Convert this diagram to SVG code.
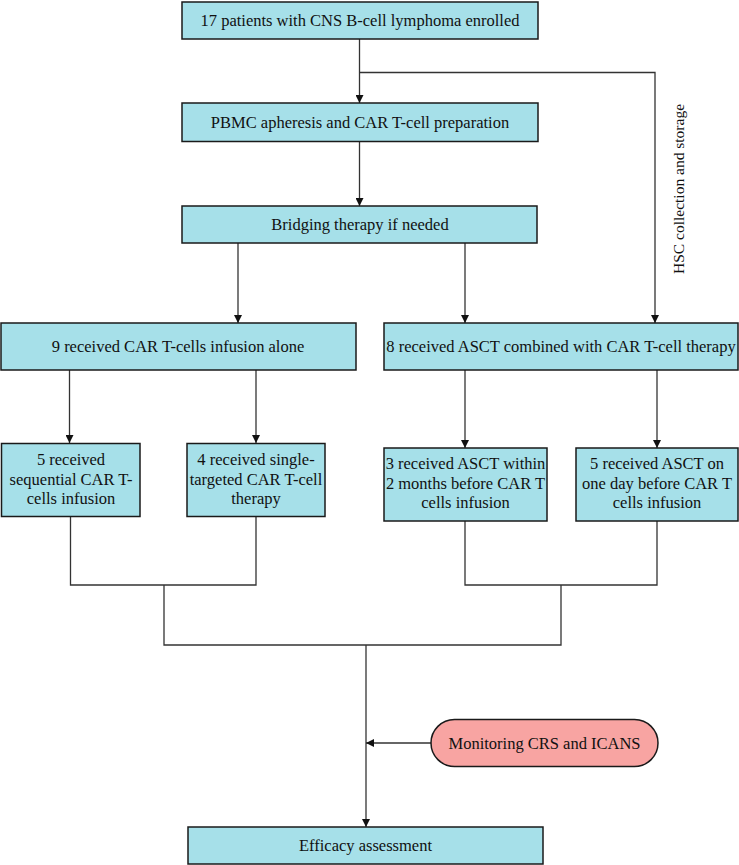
<svg xmlns="http://www.w3.org/2000/svg" width="739" height="865" viewBox="0 0 739 865">
<style>
.box{fill:#a6e0e9;stroke:#1a1a1a;stroke-width:1.5}
.pill{fill:#f8a4a2;stroke:#1a1a1a;stroke-width:1.5}
.t{font-family:"Liberation Serif","Times New Roman",serif;font-size:16.5px;fill:#111;text-anchor:middle}
.c{fill:none;stroke:#333;stroke-width:1.3}
</style>
<defs>
<marker id="ah" markerWidth="8" markerHeight="8" viewBox="0 0 8 8" refX="8" refY="4" orient="auto" markerUnits="userSpaceOnUse">
<path d="M0,0 L8,4 L0,8 Z" fill="#111"/>
</marker>
</defs>
<g id="connectors">
<path class="c" d="M359.5,39 V103" marker-end="url(#ah)"/>
<path class="c" d="M359.5,72.5 H655 V323" marker-end="url(#ah)"/>
<path class="c" d="M359.5,142 V206" marker-end="url(#ah)"/>
<path class="c" d="M238,243 V323" marker-end="url(#ah)"/>
<path class="c" d="M465,243 V323" marker-end="url(#ah)"/>
<path class="c" d="M69.5,370 V443" marker-end="url(#ah)"/>
<path class="c" d="M256,370 V443" marker-end="url(#ah)"/>
<path class="c" d="M465,370 V448" marker-end="url(#ah)"/>
<path class="c" d="M657,370 V448" marker-end="url(#ah)"/>
<path class="c" d="M70.5,517 V585 H256 V517"/>
<path class="c" d="M465,521 V585 H657 V521"/>
<path class="c" d="M164,585 V645 H561 V585"/>
<path class="c" d="M366,645 V827" marker-end="url(#ah)"/>
<path class="c" d="M431,743 H366" marker-end="url(#ah)"/>
<text x="0" y="0" transform="translate(684,189) rotate(-90)" class="t" style="font-size:15.5px">HSC collection and storage</text>
</g>
<g id="n1"><rect class="box" x="182" y="2" width="356" height="37"/><text class="t" x="360" y="26">17 patients with CNS B-cell lymphoma enrolled</text></g>
<g id="n2"><rect class="box" x="182" y="103" width="356" height="38.5"/><text class="t" x="360" y="127.5">PBMC apheresis and CAR T-cell preparation</text></g>
<g id="n3"><rect class="box" x="182" y="206" width="355" height="37"/><text class="t" x="360" y="230">Bridging therapy if needed</text></g>
<g id="n4"><rect class="box" x="1" y="323" width="355" height="47"/><text class="t" x="178" y="352">9 received CAR T-cells infusion alone</text></g>
<g id="n5"><rect class="box" x="384" y="323" width="354" height="47"/><text class="t" x="561" y="352">8 received ASCT combined with CAR T-cell therapy</text></g>
<g id="n6"><rect class="box" x="1.5" y="443.5" width="138.5" height="73"/><text class="t" x="71" y="465"><tspan x="71">5 received</tspan><tspan x="71" dy="19.5">sequential CAR T-</tspan><tspan x="71" dy="19.5">cells infusion</tspan></text></g>
<g id="n7"><rect class="box" x="187" y="443.5" width="138" height="73"/><text class="t" x="256" y="465"><tspan x="256">4 received single-</tspan><tspan x="256" dy="19.5">targeted CAR T-cell</tspan><tspan x="256" dy="19.5">therapy</tspan></text></g>
<g id="n8"><rect class="box" x="384" y="448" width="163" height="73"/><text class="t" x="465.5" y="469"><tspan x="465.5">3 received ASCT within</tspan><tspan x="465.5" dy="19.5">2 months before CAR T</tspan><tspan x="465.5" dy="19.5">cells infusion</tspan></text></g>
<g id="n9"><rect class="box" x="576" y="448" width="162" height="73"/><text class="t" x="657" y="469"><tspan x="657">5 received ASCT on</tspan><tspan x="657" dy="19.5">one day before CAR T</tspan><tspan x="657" dy="19.5">cells infusion</tspan></text></g>
<g id="n10"><rect class="pill" x="431" y="719.5" width="227" height="47" rx="23.5" ry="23.5"/><text class="t" x="544.5" y="748.5">Monitoring CRS and ICANS</text></g>
<g id="n11"><rect class="box" x="188" y="827" width="355" height="37"/><text class="t" x="365.5" y="851">Efficacy assessment</text></g>
</svg>
